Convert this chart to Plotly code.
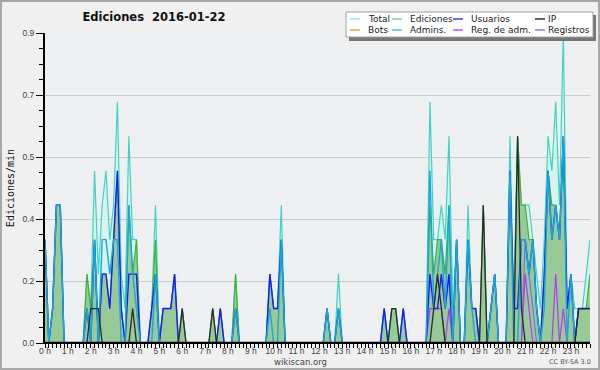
import plotly.graph_objects as go

# ---------------- data (edits per minute, 10-minute buckets, 6 per hour) ----------------
hour_labels = [f"{h} h" for h in range(24)]
slot_times = [i / 6 for i in range(144)]  # hours

total = [
    .3, 0, .1, .4, .4, 0,      # 0 h
    0, 0, 0, 0, 0, .2,         # 1 h
    .1, .5, .2, .4, .5, .3,    # 2 h
    .4, .7, .2, .1, .6, .3,    # 3 h
    .3, 0, 0, 0, .1, .4,       # 4 h
    0, .1, .1, .1, .2, 0,      # 5 h
    .1, 0, 0, 0, 0, 0,         # 6 h
    0, 0, .1, 0, .1, 0,        # 7 h
    0, 0, .2, 0, 0, 0,         # 8 h
    0, 0, 0, 0, 0, .2,         # 9 h
    .1, .1, .4, 0, 0, 0,       # 10 h
    0, 0, 0, 0, 0, 0,          # 11 h
    0, 0, .1, 0, 0, .2,        # 12 h
    0, 0, 0, 0, 0, 0,          # 13 h
    0, 0, 0, 0, 0, .1,         # 14 h
    0, .1, .1, 0, .1, 0,       # 15 h
    0, 0, 0, 0, 0, .7,         # 16 h
    .3, .3, .4, .3, .6, .1,    # 17 h
    .3, 0, 0, .4, .1, .1,      # 18 h
    0, .4, 0, .1, .2, 0,       # 19 h
    0, 0, .6, .1, .6, .4,      # 20 h
    .4, .4, .3, .2, .1, .3,    # 21 h
    .6, .5, .7, .4, .9, .1,    # 22 h
    .2, .1, .1, .1, .2, .3,    # 23 h
]
ediciones = [
    .3, 0, .1, .4, .4, 0,
    0, 0, 0, 0, 0, .2,
    .1, .3, 0, .2, .2, .1,
    .3, .5, .1, 0, .4, .2,
    .3, 0, 0, 0, .1, .3,
    0, .1, .1, .1, .2, 0,
    .1, 0, 0, 0, 0, 0,
    0, 0, .1, 0, .1, 0,
    0, 0, .2, 0, 0, 0,
    0, 0, 0, 0, 0, .2,
    .1, .1, .3, 0, 0, 0,
    0, 0, 0, 0, 0, 0,
    0, 0, .1, 0, 0, .1,
    0, 0, 0, 0, 0, 0,
    0, 0, 0, 0, 0, .1,
    0, .1, .1, 0, .1, 0,
    0, 0, 0, 0, 0, .4,
    .2, .3, .3, .2, .4, 0,
    .3, 0, 0, .3, .1, .1,
    0, .4, 0, .1, .2, 0,
    0, 0, .5, .1, .6, .4,
    .4, .3, .3, .1, 0, .2,
    .5, .4, .4, .3, .6, .1,
    .2, 0, .1, .1, .1, .2,
]
usuarios = [
    .3, 0, .1, .4, .4, 0,
    0, 0, 0, 0, 0, .1,
    0, .3, 0, .2, .2, .1,
    .3, .5, .1, 0, .2, .2,
    .2, 0, 0, 0, .1, .2,
    0, .1, .1, .1, .2, 0,
    0, 0, 0, 0, 0, 0,
    0, 0, 0, 0, .1, 0,
    0, 0, .1, 0, 0, 0,
    0, 0, 0, 0, 0, .2,
    .1, .1, .3, 0, 0, 0,
    0, 0, 0, 0, 0, 0,
    0, 0, .1, 0, 0, .1,
    0, 0, 0, 0, 0, 0,
    0, 0, 0, 0, 0, .1,
    0, 0, 0, 0, .1, 0,
    0, 0, 0, 0, 0, .2,
    .1, .1, .2, .1, .2, 0,
    .3, 0, 0, .3, .1, .1,
    0, 0, 0, .1, .2, 0,
    0, 0, .5, .1, .1, .3,
    .3, .2, .3, .1, 0, .2,
    .5, .3, .4, .3, .6, .1,
    .2, 0, .1, .1, .1, .1,
]
ip = [
    0, 0, 0, 0, 0, 0,
    0, 0, 0, 0, 0, 0,
    .1, .1, .1, 0, 0, 0,
    0, 0, 0, 0, 0, .1,
    0, 0, 0, 0, 0, 0,
    0, 0, 0, 0, 0, 0,
    .1, 0, 0, 0, 0, 0,
    0, 0, .1, 0, 0, 0,
    0, 0, 0, 0, 0, 0,
    0, 0, 0, 0, 0, 0,
    0, 0, 0, 0, 0, 0,
    0, 0, 0, 0, 0, 0,
    0, 0, 0, 0, 0, 0,
    0, 0, 0, 0, 0, 0,
    0, 0, 0, 0, 0, 0,
    0, .1, .1, 0, 0, 0,
    0, 0, 0, 0, 0, 0,
    .1, .2, .1, 0, 0, 0,
    0, 0, 0, 0, 0, 0,
    0, .4, 0, 0, 0, 0,
    0, 0, 0, 0, .6, .1,
    0, 0, 0, 0, 0, 0,
    0, 0, 0, 0, 0, 0,
    0, 0, .1, .1, .1, .1,
]
bots = [0] * 144
admins = [
    .3, 0, .1, .4, .4, 0,
    0, 0, 0, 0, 0, .1,
    0, .3, 0, .3, .3, .2,
    .3, .3, 0, 0, .4, .2,
    .1, 0, 0, 0, 0, .2,
    0, 0, 0, 0, 0, 0,
    0, 0, 0, 0, 0, 0,
    0, 0, 0, 0, 0, 0,
    0, 0, .1, 0, 0, 0,
    0, 0, 0, 0, 0, .1,
    0, 0, .3, 0, 0, 0,
    0, 0, 0, 0, 0, 0,
    0, 0, .1, 0, 0, .1,
    0, 0, 0, 0, 0, 0,
    0, 0, 0, 0, 0, 0,
    0, 0, 0, 0, 0, 0,
    0, 0, 0, 0, 0, .5,
    .1, .2, .3, .1, .4, 0,
    .3, 0, 0, .3, .1, 0,
    0, 0, 0, .1, .2, 0,
    0, 0, .5, 0, 0, .3,
    .3, .2, .3, .1, 0, .1,
    .5, .3, .4, .3, .6, 0,
    .2, 0, 0, 0, 0, 0,
]
reg_adm = [
    0, 0, 0, 0, 0, 0,
    0, 0, 0, 0, 0, 0,
    0, 0, 0, 0, 0, 0,
    0, 0, 0, 0, 0, 0,
    0, 0, 0, 0, 0, 0,
    0, 0, 0, 0, 0, 0,
    0, 0, 0, 0, 0, 0,
    0, 0, 0, 0, 0, 0,
    0, 0, 0, 0, 0, 0,
    0, 0, 0, 0, 0, 0,
    0, 0, 0, 0, 0, 0,
    0, 0, 0, 0, 0, 0,
    0, 0, 0, 0, 0, 0,
    0, 0, 0, 0, 0, 0,
    0, 0, 0, 0, 0, 0,
    0, 0, 0, 0, 0, 0,
    0, 0, 0, 0, 0, .1,
    .1, .1, .1, 0, .1, 0,
    0, 0, 0, 0, 0, 0,
    0, 0, 0, 0, 0, 0,
    0, 0, 0, 0, 0, 0,
    .2, .1, 0, 0, 0, 0,
    0, 0, .2, 0, .1, 0,
    0, 0, 0, 0, 0, 0,
]
registros = [
    0, 0, 0, 0, 0, 0,
    0, 0, 0, 0, 0, 0,
    0, 0, 0, 0, 0, 0,
    0, 0, 0, 0, 0, 0,
    0, 0, 0, 0, 0, 0,
    0, 0, 0, 0, 0, 0,
    0, 0, 0, 0, 0, 0,
    0, 0, 0, 0, 0, 0,
    0, 0, 0, 0, 0, 0,
    0, 0, 0, 0, 0, 0,
    0, 0, 0, 0, 0, 0,
    0, 0, 0, 0, 0, 0,
    0, 0, 0, 0, 0, 0,
    0, 0, 0, 0, 0, 0,
    0, 0, 0, 0, 0, 0,
    0, 0, 0, 0, 0, 0,
    0, 0, 0, 0, 0, 0,
    0, 0, 0, 0, 0, 0,
    0, 0, 0, 0, 0, 0,
    0, 0, 0, 0, 0, 0,
    0, 0, 0, 0, 0, 0,
    .3, .2, .1, 0, 0, 0,
    0, 0, 0, 0, 0, 0,
    0, 0, .1, .1, .1, .1,
]

y_tick_vals = [0, 0.18, 0.36, 0.54, 0.72, 0.9]
y_tick_text = ["0.0", "0.2", "0.4", "0.5", "0.7", "0.9"]

# ---------------- styling ----------------
W, H = 600, 370
ML, MR, MT, MB = 45, 10, 33, 27
PW, PH = W - ML - MR, H - MT - MB


def px2x(px):
    return (px - ML) / PW


def py2y(py):
    return (H - MB - py) / PH


series = [
    # name, values, line colour, width, fill colour, legend colour
    ("Total", total, "#3fd3c4", 1.2, "rgba(208,244,234,0.75)", "#a8e6de"),
    ("Ediciones", ediciones, "#3cb43c", 1.2, "#97ca97", "#88cc88"),
    ("Registros", registros, "#7070f0", 1.2, None, "#8080ee"),
    ("Reg. de adm.", reg_adm, "#b43cf0", 1.2, None, "#cc50ee"),
    ("Usuarios", usuarios, "#1a1aff", 1.4, None, "#4040dd"),
    ("Admins.", admins, "#1aa8d8", 1.4, None, "#40c8e0"),
    ("IP", ip, "#2a2a2a", 1.3, None, "#333333"),
    ("Bots", bots, "#ff9a30", 1.2, None, "#f5a040"),
]

fig = go.Figure()
for name, vals, col, wid, fillc, _ in series:
    kw = {}
    if fillc:
        kw = dict(fill="tozeroy", fillcolor=fillc)
    fig.add_trace(go.Scatter(x=slot_times, y=vals, name=name, mode="lines",
                             line=dict(color=col, width=wid), **kw))

tick_font = dict(family="Liberation Sans", size=8.5, color="#444444")

fig.update_layout(
    width=W, height=H,
    margin=dict(l=ML, r=MR, t=MT, b=MB, autoexpand=False),
    paper_bgcolor="#f0f0f0",
    plot_bgcolor="#edeff1",
    showlegend=False,
    title=dict(text="Ediciones\u00a0 2016-01-22", x=154 / W, xanchor="center",
               y=1 - 17 / H, yanchor="middle",
               font=dict(family="DejaVu Sans", size=11.5, color="#111111", weight="bold")),
    xaxis=dict(range=[0, 143 / 6], tickmode="array", tickvals=list(range(24)),
               ticktext=hour_labels, ticks="outside", ticklen=4, tickwidth=1,
               tickcolor="black", showline=True, linecolor="black", linewidth=1,
               showgrid=False, zeroline=False, tickfont=tick_font, automargin=False,
               ticklabelstandoff=-4,
               minor=dict(tickmode="array", tickvals=slot_times, ticks="outside",
                          ticklen=4, tickwidth=1, tickcolor="black", showgrid=False)),
    yaxis=dict(range=[0, 0.9], tickmode="array", tickvals=y_tick_vals,
               ticktext=y_tick_text, ticks="outside", ticklen=7, tickwidth=1,
               tickcolor="black", showline=True, linecolor="black", linewidth=2,
               showgrid=True, gridcolor="#cccccc", gridwidth=1, zeroline=False,
               tickfont=tick_font, automargin=False,
               title=dict(text="Ediciones/min", standoff=6,
                          font=dict(family="DejaVu Sans Mono", size=10, color="#111111")),
               minor=dict(tickmode="array", tickvals=[k * 0.045 for k in range(21)],
                          ticks="outside", ticklen=4, tickwidth=1, tickcolor="black",
                          showgrid=False)),
)

shapes = []
annotations = []
# baseline drawn over zero-valued lines
shapes.append(dict(type="line", xref="paper", yref="y", x0=0, x1=1, y0=0, y1=0,
                   line=dict(color="black", width=2.5), layer="above"))
# outer frame
shapes.append(dict(type="rect", xref="paper", yref="paper",
                   x0=px2x(1), x1=px2x(599), y0=py2y(369), y1=py2y(1),
                   line=dict(color="#a8a8a8", width=2), fillcolor="rgba(0,0,0,0)", layer="above"))
# legend box with shadow
shapes.append(dict(type="rect", xref="paper", yref="paper",
                   x0=px2x(349), x1=px2x(596), y0=py2y(41), y1=py2y(15),
                   line=dict(width=0), fillcolor="#777777", layer="above"))
shapes.append(dict(type="rect", xref="paper", yref="paper",
                   x0=px2x(346), x1=px2x(593), y0=py2y(37), y1=py2y(12),
                   line=dict(color="#a0a0a0", width=1), fillcolor="#ffffff", layer="above"))

legend_order = ["Total", "Ediciones", "Usuarios", "IP", "Bots", "Admins.", "Reg. de adm.", "Registros"]
leg_col = {s[0]: s[5] for s in series}
col_line_x = [350, 392, 453, 535]
col_text_x = [366, 408, 469, 546]
row_y = [19, 30]
for k, name in enumerate(legend_order):
    r, c = divmod(k, 4)
    shapes.append(dict(type="line", xref="paper", yref="paper",
                       x0=px2x(col_line_x[c]), x1=px2x(col_line_x[c] + 10),
                       y0=py2y(row_y[r]), y1=py2y(row_y[r]),
                       line=dict(color=leg_col[name], width=1.5), layer="above"))
    annotations.append(dict(text=name, xref="paper", yref="paper",
                            x=px2x(col_text_x[c]), y=py2y(row_y[r]),
                            xanchor="left", yanchor="middle", showarrow=False,
                            font=dict(family="DejaVu Sans", size=9, color="#222222")))

annotations.append(dict(text="wikiscan.org", xref="paper", yref="paper",
                        x=px2x(300), y=py2y(362), xanchor="center", yanchor="middle",
                        showarrow=False,
                        font=dict(family="DejaVu Sans", size=8.5, color="#444444")))
annotations.append(dict(text="CC BY-SA 3.0", xref="paper", yref="paper",
                        x=px2x(570), y=py2y(362), xanchor="center", yanchor="middle",
                        showarrow=False,
                        font=dict(family="DejaVu Sans", size=6.5, color="#555555")))

fig.update_layout(shapes=shapes, annotations=annotations)
fig.write_html("out.html", config={"displayModeBar": False},
               post_script="document.body.style.margin='0';document.body.style.overflow='hidden';")
